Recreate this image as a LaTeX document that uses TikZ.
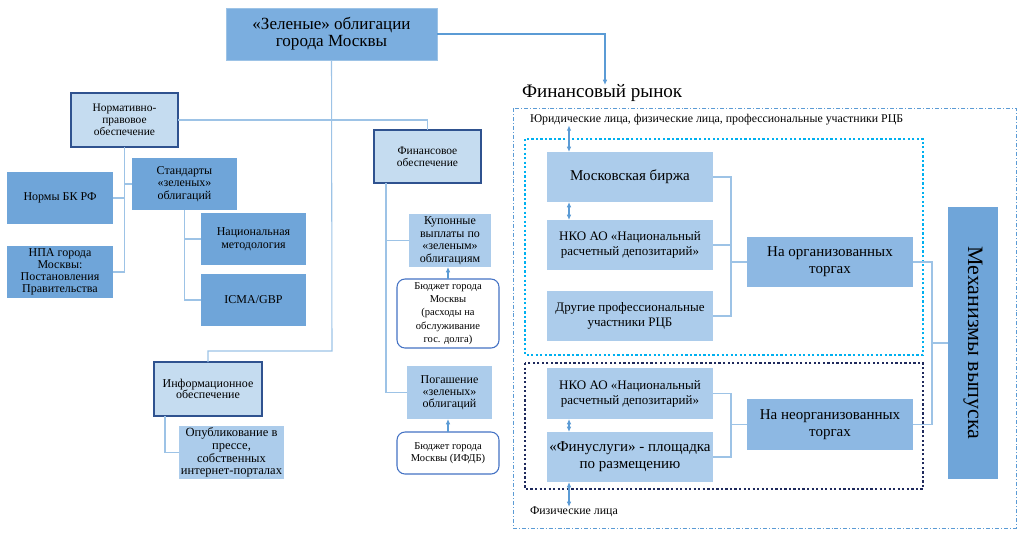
\documentclass[tikz,border=0pt]{standalone}
\usepackage{fontspec}
\setmainfont{Liberation Serif}
\usetikzlibrary{arrows.meta,calc}
\definecolor{cTitle}{HTML}{7BAEDF}
\definecolor{cMid}{HTML}{6FA5D9}
\definecolor{cLight}{HTML}{C5DCF0}
\definecolor{cDark}{HTML}{2F528F}
\definecolor{cPale}{HTML}{ACCCEB}
\definecolor{cOrg}{HTML}{8DB8E3}
\definecolor{cBud}{HTML}{4472C4}
\definecolor{cLine}{HTML}{9DC3E6}
\definecolor{cArr}{HTML}{5B9BD5}
\definecolor{cBright}{HTML}{00B0F0}
\definecolor{cNavy}{HTML}{1F2A5C}
\newcommand{\fs}[2]{\rmfamily\fontsize{#1}{#2}\selectfont}
\newcommand{\bx}[7]{%
 \pgfmathsetmacro{\bxcx}{(#2+#4)/2}%
 \pgfmathsetmacro{\bxcy}{(#3+#5)/2}%
 \pgfmathsetmacro{\bxw}{(#4-#2)*0.75}%
 \pgfmathsetmacro{\bxh}{(#5-#3)*0.75}%
 \node[#6,minimum width=\bxw pt,minimum height=\bxh pt] (#1) at (\bxcx,\bxcy) {#7};}
\tikzset{
 box/.style={inner sep=1pt, outer sep=0pt, align=center},
 midbox/.style={box, fill=cMid},
 titlebox/.style={box, fill=cTitle, draw=cLine, line width=0.6pt},
 ltbox/.style={box, fill=cLight, draw=cDark, line width=1.2pt},
 palebox/.style={box, fill=cPale},
 orgbox/.style={box, fill=cOrg},
 budbox/.style={box, fill=white, draw=cBud, rounded corners=6pt, line width=0.8pt},
 con/.style={draw=cLine, line width=0.8pt},
 arr/.style={draw=cArr, line width=0.8pt, -{Latex[length=4pt,width=3.5pt]}},
 dbl/.style={draw=cArr, line width=0.8pt, {Latex[length=4pt,width=3.5pt]}-{Latex[length=4pt,width=3.5pt]}},
 lbl/.style={inner sep=0pt, outer sep=0pt, anchor=west}
}
\begin{document}
\begin{tikzpicture}[x=0.75pt,y=-0.75pt]
\useasboundingbox (0,0) rectangle (1034,533);
% frames
\draw[cArr, line width=0.7pt, dash pattern=on 3pt off 1.5pt on 0.7pt off 1.5pt] (513,108) rectangle (1016,528);
\draw[cBright, line width=1.7pt, dash pattern=on 1.7pt off 1.7pt] (525,139) rectangle (923,355);
\draw[cNavy, line width=1.7pt, dash pattern=on 1.7pt off 1.7pt] (525,363) rectangle (923,489);
% left side nodes
\bx{title}{226}{8}{437}{60}{titlebox,font={\fs{12.8}{13}}}{«Зеленые» облигации\\города Москвы}
\bx{norm}{71}{93}{178}{147}{ltbox,font={\fs{8.6}{8.8}}}{Нормативно-\\правовое\\обеспечение}
\bx{fin}{374}{130}{481}{183}{ltbox,font={\fs{8.6}{9.2}}}{Финансовое\\обеспечение}
\bx{normy}{7}{172}{113}{224}{midbox,font={\fs{9}{9.2}}}{Нормы БК РФ}
\bx{npa}{7}{246}{113}{298}{midbox,font={\fs{9}{9}}}{НПА города\\Москвы:\\Постановления\\Правительства}
\bx{stand}{132}{158}{237}{210}{midbox,font={\fs{9}{9.2}}}{Стандарты\\«зеленых»\\облигаций}
\bx{nat}{201}{213}{306}{265}{midbox,font={\fs{9}{9.4}}}{Национальная\\методология}
\bx{icma}{201}{274}{306}{326}{midbox,font={\fs{9}{9.4}}}{ICMA/GBP}
\bx{kup}{409}{214}{491}{267}{palebox,font={\fs{9}{9.4}}}{Купонные\\выплаты по\\«зеленым»\\облигациям}
\bx{bud1}{397}{279}{499}{348}{budbox,font={\fs{7.9}{10}}}{Бюджет города\\Москвы\\(расходы на\\обслуживание\\гос. долга)}
\bx{pog}{407}{366}{492}{419}{palebox,font={\fs{9}{9.2}}}{Погашение\\«зеленых»\\облигаций}
\bx{bud2}{397}{432}{499}{474}{budbox,font={\fs{7.9}{8.8}}}{Бюджет города\\Москвы (ИФДБ)}
\bx{info}{154}{362}{262}{416}{ltbox,font={\fs{9}{8.8}}}{Информационное\\обеспечение}
\bx{opub}{179}{427}{284}{478}{palebox,font={\fs{9.4}{9.6}}}{Опубликование в\\прессе,\\собственных\\интернет-порталах}
% right side nodes
\node[lbl,font={\fs{14.3}{15}}] (frt) at (522,93) {Финансовый рынок};
\node[lbl,font={\fs{8.9}{9}}] (ur) at (530,120) {Юридические лица, физические лица, профессиональные участники РЦБ};
\node[lbl,font={\fs{8.9}{9}}] (phys) at (530,512) {Физические лица};
\bx{mos}{547}{152}{713}{202}{palebox,font={\fs{11.25}{12}}}{Московская биржа}
\bx{nko1}{547}{220}{713}{270}{palebox,font={\fs{9.75}{11.25}}}{НКО АО «Национальный\\расчетный депозитарий»}
\bx{oth}{547}{291}{713}{341}{palebox,font={\fs{9.75}{11.25}}}{Другие профессиональные\\участники РЦБ}
\bx{nko2}{547}{368}{713}{419}{palebox,font={\fs{9.75}{11.25}}}{НКО АО «Национальный\\расчетный депозитарий»}
\bx{finu}{547}{432}{713}{482}{palebox,font={\fs{11.25}{12.5}}}{«Финуслуги» - площадка\\по размещению}
\bx{org}{747}{237}{913}{287}{orgbox,font={\fs{11.25}{12.5}}}{На организованных\\торгах}
\bx{unorg}{747}{399}{913}{450}{orgbox,font={\fs{11.25}{12.5}}}{На неорганизованных\\торгах}
\node[box, fill=cMid, minimum width=204pt, minimum height=37.5pt, rotate=-90, font={\fs{16.5}{17}}] (mech) at (973,343) {Механизмы выпуска};
% coordinates
\coordinate (frtop) at (605,85);
\coordinate (fa) at (386,183);
\coordinate (ia) at (165,416);
\coordinate (ba) at (731,0);
\coordinate (bb) at (932,0);
\coordinate (ax) at (569,0);
\coordinate (trunk) at (332,351);
% left connectors
\draw[arr] (title.east) -| (frtop);
\draw[con] (title.south) -- (trunk) -| (info.north);
\draw[con] (norm.east) -| (fin.north);
\draw[con] (norm.south) |- (npa.east);
\draw[con] (normy.east) -- (normy.east -| norm.south);
\draw[con] (stand.west) -- (stand.west -| norm.south);
\draw[con] (stand.south) |- (icma.west);
\draw[con] (nat.west) -- (nat.west -| stand.south);
\draw[con] (fa) |- (pog.west);
\draw[con] (kup.west) -- (kup.west -| fa);
\draw[arr] (bud1.north) -- (bud1.north |- kup.south);
\draw[arr] (bud2.north) -- (bud2.north |- pog.south);
\draw[con] (ia) |- (opub.west);
% right connectors
\draw[con] (mos.east) -| (ba |- oth.east) -- (oth.east);
\draw[con] (nko1.east) -- (nko1.east -| ba);
\draw[con] (ba |- org.west) -- (org.west);
\draw[con] (nko2.east) -| (ba |- finu.east) -- (finu.east);
\draw[con] (ba |- unorg.west) -- (unorg.west);
\draw[con] (org.east) -| (bb |- unorg.east) -- (unorg.east);
\draw[con] (bb |- mech.south) -- (mech.south);
\draw[dbl] (ax |- ur.south) -- (ax |- mos.north);
\draw[dbl] (ax |- mos.south) -- (ax |- nko1.north);
\draw[dbl] (ax |- nko2.south) -- (ax |- finu.north);
\draw[dbl] (ax |- finu.south) -- (ax |- phys.north);
\end{tikzpicture}
\end{document}
